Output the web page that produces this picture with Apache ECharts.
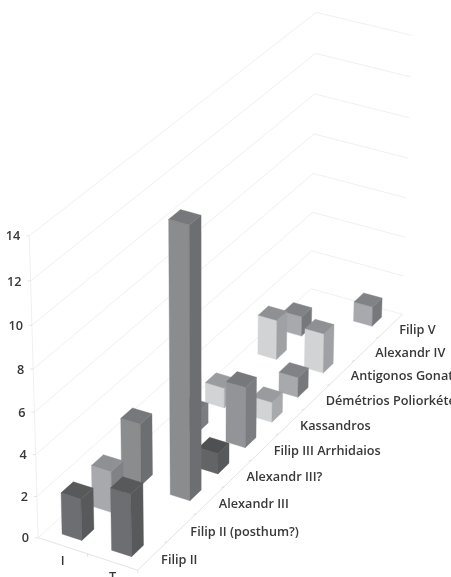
<!DOCTYPE html>
<html><head><meta charset="utf-8">
<style>html,body{margin:0;padding:0;background:#fff;overflow:hidden}#c{width:451px;height:577px}</style>
<script src="https://cdn.jsdelivr.net/npm/echarts@6/dist/echarts.min.js"></script>
</head><body><div id="c"></div>
<script>
// ---- data ----
var categories = ['Filip II','Filip II (posthum?)','Alexandr III','Alexandr III?','Filip III Arrhidaios','Kassandros','Démétrios Poliorkétés','Antigonos Gonatas','Alexandr IV','Filip V'];
var seriesNames = ['I','T'];
var valuesI = [2,2,3,0,1,1,0,2,1,0];
var valuesT = [3,0,13,1,3,1,1,2,0,1];
var valueTicks = [0,2,4,6,8,10,12,14];
// face colours per category: [left, top, right]
var faces = [
 ['#6d6e71','#58595b','#58595b'],
 ['#a7a9ac','#8f9093','#808285'],
 ['#8a8c8e','#77787b','#6d6e71'],
 ['#636466','#4f5052','#58595b'],
 ['#929497','#77787b','#7c7d80'],
 ['#d1d3d4','#9a9b9e','#a7a9ac'],
 ['#a7a9ac','#808285','#77787b'],
 ['#d1d3d4','#8f9093','#a0a1a4'],
 ['#a7a9ac','#808285','#77787b'],
 ['#a7a9ac','#808285','#77787b']
];
// ---- camera calibration: [x(0..1), height(0..1), depth(0..1), px, py] ----
var calibration = [
 [0,0,0,38,537],[0,2/14,0,37,497],[0,4/14,0,36,455],[0,6/14,0,34.7,412],[0,8/14,0,33.5,369],[0,10/14,0,32,325],[0,12/14,0,30.5,281],[0,1,0,29,236],
 [.5,0,0,87,554],[1,0,0,137,570],
 [1,0,.1,167,542],[1,0,.2,197,513],[1,0,.3,225,487],[1,0,.4,252,460],[1,0,.5,278,434],
 [1,0,.6,304,409],[1,0,.7,329,384],[1,0,.8,356,360],[1,0,.9,380,337],[1,0,1,403,314],
 [0,0,1,310,289],[0,2/14,1,311.5,251],[0,4/14,1,312.5,212],[0,6/14,1,313,174],[0,8/14,1,314,134],[0,10/14,1,315,94],[0,12/14,1,316,53],[0,1,1,317,12],
 [1,2/14,1,403.5,276],[1,4/14,1,405,238],[1,6/14,1,406,198],[1,8/14,1,408,158],[1,10/14,1,409,118],[1,12/14,1,410,77],[1,1,1,411,35]
];
function fitCamera(pts){
  var n=11,p=null,it;
  for(it=0;it<6;it++){
    var A=[],b=[],i,j,k;
    for(i=0;i<n;i++){A.push(new Array(n).fill(0));b.push(0);}
    var add=function(r,t,g){for(var a=0;a<n;a++){b[a]+=g*r[a]*t;for(var c=0;c<n;c++)A[a][c]+=g*r[a]*r[c];}};
    pts.forEach(function(q){var X=q[0],Y=q[1],Z=q[2],u=q[3],v=q[4];
      var w=p?p[8]*X+p[9]*Y+p[10]*Z+1:1,g=1/(w*w);
      add([X,Y,Z,1,0,0,0,0,-u*X,-u*Y,-u*Z],u,g);
      add([0,0,0,0,X,Y,Z,1,-v*X,-v*Y,-v*Z],v,g);});
    for(i=0;i<n;i++){var m=i;for(j=i+1;j<n;j++)if(Math.abs(A[j][i])>Math.abs(A[m][i]))m=j;
      var t=A[i];A[i]=A[m];A[m]=t;t=b[i];b[i]=b[m];b[m]=t;
      for(j=i+1;j<n;j++){var f=A[j][i]/A[i][i];for(k=i;k<n;k++)A[j][k]-=f*A[i][k];b[j]-=f*b[i];}}
    p=new Array(n);
    for(i=n-1;i>=0;i--){var s=b[i];for(k=i+1;k<n;k++)s-=A[i][k]*p[k];p[i]=s/A[i][i];}
  }
  return p;
}
var P=fitCamera(calibration);
function project(x,h,z){
  var w=P[8]*x+P[9]*h+P[10]*z+1;
  return [(P[0]*x+P[1]*h+P[2]*z+P[3])/w,(P[4]*x+P[5]*h+P[6]*z+P[7])/w];
}
var W=451,H=577,GRID='#e9eaea',AXIS='#d8d9da',TEXT='#38383a',FONT='"Open Sans"';
var BAR=0.4;
var barData=[];
for(var zi=categories.length-1;zi>=0;zi--){
  if(valuesI[zi]>0)barData.push([zi,valuesI[zi],0]);
  if(valuesT[zi]>0)barData.push([zi,valuesT[zi],1]);
}
function poly(pts,fill,stroke){return {type:'polygon',shape:{points:pts},style:{fill:fill,stroke:stroke||fill,lineWidth:0.4}};}
function line(pts,col){return {type:'polyline',shape:{points:pts},style:{fill:null,stroke:col,lineWidth:0.7}};}
function txt(x,y,s,align,color){return {type:'text',x:x,y:y,style:{text:s,fill:color||TEXT,font:'600 12.7px '+FONT,align:align,verticalAlign:'middle'}};}
// library scales -> normalised model coordinates
function model(api,c,v){var p=api.coord([c,v]);return {z:p[0]/W,h:1-p[1]/H};}
function renderBar(params,api){
  var c=api.value(0),v=api.value(1),s=api.value(2);
  var m=model(api,c,v),n=seriesNames.length,ncat=categories.length;
  var xc=(s+.5)/n,hx=BAR/n/2,hz=BAR/ncat/2;
  var x0=xc-hx,x1=xc+hx,z0=m.z-hz,z1=m.z+hz,h=m.h,col=faces[c];
  return {type:'group',children:[
    poly([project(x0,0,z0),project(x1,0,z0),project(x1,h,z0),project(x0,h,z0)],col[0]),
    poly([project(x1,0,z0),project(x1,0,z1),project(x1,h,z1),project(x1,h,z0)],col[2]),
    poly([project(x0,h,z0),project(x1,h,z0),project(x1,h,z1),project(x0,h,z1)],col[1])
  ]};
}
function renderGrid(params,api){
  var v=api.value(0),m=model(api,0,v),h=m.h;
  var a=project(0,h,0),d=project(0,h,1),c=project(1,h,1);
  var ch=[line([a,d,c],GRID),line([[a[0]-3,a[1]],a],AXIS),txt(a[0]-9,a[1]+1,String(v),'right')];
  return {type:'group',children:ch};
}
function renderZ(params,api){
  var i=api.value(0),m=model(api,i,0),e=project(1,0,m.z),ch=[txt(e[0]+8.5,e[1]+4.5,categories[i],'left')];
  var t=project(1,0,m.z+.5/categories.length);
  if(i<categories.length-1)ch.push(line([t,[t[0]-3,t[1]+1]],AXIS));
  return {type:'group',children:ch};
}
function renderX(params,api){
  var i=api.value(0),x=(i+.5)/seriesNames.length,p=project(x,0,0);
  return txt(p[0],p[1]+15.5,seriesNames[i],'center');
}
function renderAxes(){
  return {type:'group',children:[
    line([project(0,0,0),project(0,1,0)],GRID),
    line([project(1,0,1),project(1,0,0),project(0,0,0)],AXIS),
    line([project(.5,0,0),[project(.5,0,0)[0],project(.5,0,0)[1]+3]],AXIS),
    line([project(1,0,0),[project(1,0,0)[0],project(1,0,0)[1]+3]],AXIS)
  ]};
}
var chart=echarts.init(document.getElementById('c'),null,{renderer:'canvas'});
chart.setOption({
  animation:false,backgroundColor:'#fff',
  grid:{left:0,right:0,top:0,bottom:0,containLabel:false},
  xAxis:{type:'category',data:categories,show:false},
  yAxis:{type:'value',min:0,max:14,interval:2,show:false},
  series:[
   {type:'custom',clip:false,data:[[0]],renderItem:renderAxes,encode:{x:0},silent:true},
   {type:'custom',clip:false,data:valueTicks.map(function(v){return [v];}),renderItem:renderGrid,encode:{y:0},silent:true},
   {type:'custom',clip:false,data:categories.map(function(c,i){return [i];}),renderItem:renderZ,encode:{x:0},silent:true},
   {type:'custom',clip:false,data:seriesNames.map(function(c,i){return [i];}),renderItem:renderX,encode:{x:0},silent:true},
   {type:'custom',clip:false,data:barData,renderItem:renderBar,encode:{x:0,y:1},silent:true}
  ]
});
</script></body></html>
